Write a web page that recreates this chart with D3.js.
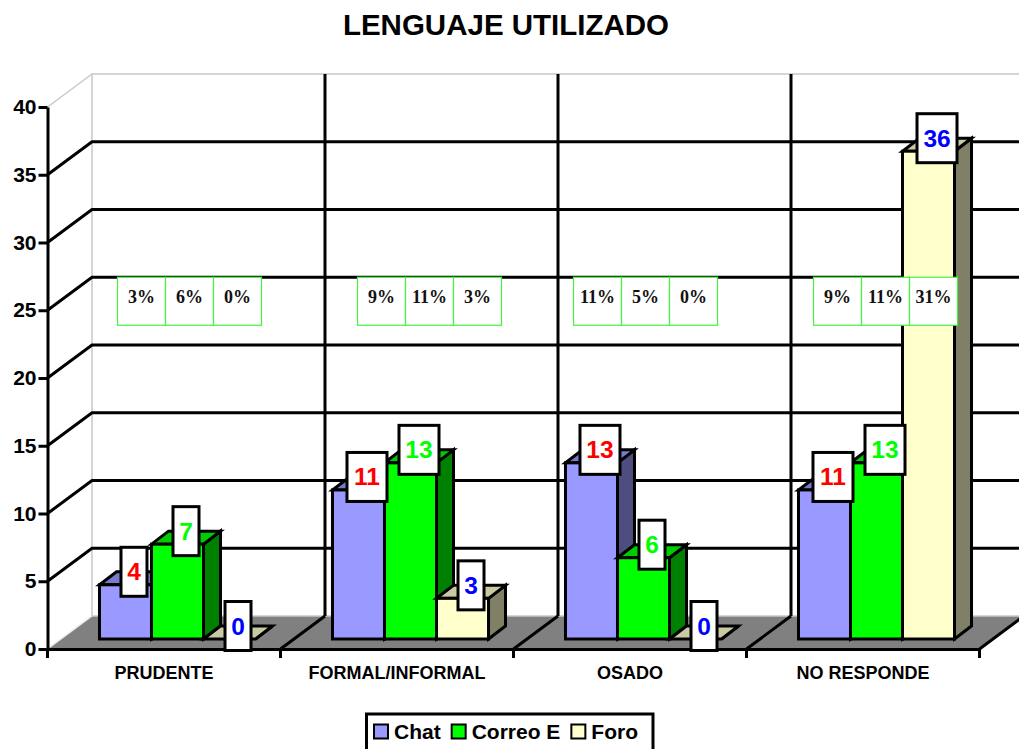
<!DOCTYPE html>
<html>
<head>
<meta charset="utf-8">
<title>Lenguaje utilizado</title>
<script src="https://d3js.org/d3.v7.min.js"></script>
<style>
  body { margin: 0; background: white; }
  svg { display: block; }
  text { font-family: "Liberation Sans", Arial, sans-serif; font-weight: bold; }
</style>
</head>
<body>
<svg id="chart" width="1019" height="749"></svg>
<script>
const categories = ["PRUDENTE", "FORMAL/INFORMAL", "OSADO", "NO RESPONDE"];
const seriesNames = ["Chat", "Correo E", "Foro"];
const chatValues = [4, 11, 13, 11];
const correoValues = [7, 13, 6, 13];
const foroValues = [0, 3, 0, 36];
const chatPct = ["3%", "9%", "11%", "9%"];
const correoPct = ["6%", "11%", "5%", "11%"];
const foroPct = ["0%", "3%", "0%", "31%"];
const yTicks = [0, 5, 10, 15, 20, 25, 30, 35, 40];

const seriesValues = [chatValues, correoValues, foroValues];
const seriesPct = [chatPct, correoPct, foroPct];

// colours per series: front, top, side, label
const front = ["#9999ff", "#00ff00", "#ffffcc"];
const topFace = ["#7a7acc", "#00cc00", "#c9c9a3"];
const side = ["#4d4d80", "#008000", "#808066"];
const labelCol = ["#ff0000", "#00ff00", "#0000ff"];

// wall depth, bar inset from the front edge, bar depth
const wall = { dx: 44.5, dy: -33 };
const inset = { dx: 13.5, dy: -10 };
const depth = { dx: 17, dy: -13 };
// the percent tables were placed by hand, each one differs
const tableShift = [70, 77, 60, 67];
const cellW = 48;
const lineW = 3;

const svg = d3.select("#chart");

const x0 = d3.scaleBand().domain(categories).range([47.5, 979.5]);
const x1 = d3.scaleBand().domain(d3.range(3)).range([0, x0.bandwidth()]).paddingOuter(0.74).paddingInner(0);
const y = d3.scaleLinear().domain([0, 40]).range([649, 107]);
const barW = x1.bandwidth();

svg.append("text")
  .attr("x", 506).attr("y", 35)
  .attr("text-anchor", "middle")
  .style("font-size", "29.5px")
  .text("LENGUAJE UTILIZADO");

// floor
const floorY = y(0);
const xL = x0.range()[0], xR = x0.range()[1];
svg.append("polygon")
  .attr("points", [[xL, floorY], [xR, floorY], [xR + wall.dx, floorY + wall.dy], [xL + wall.dx, floorY + wall.dy]].join(" "))
  .attr("fill", "#808080");

// light wall edges
const grey = "#c8c8c8";
const wallG = svg.append("g").attr("fill", "none");
wallG.append("path")
  .attr("d", `M${xL + wall.dx},${floorY + wall.dy}V${y(40) + wall.dy}H1019`)
  .attr("stroke", grey).attr("stroke-width", 1.5);
wallG.append("line")
  .attr("x1", xL).attr("y1", y(40)).attr("x2", xL + wall.dx).attr("y2", y(40) + wall.dy)
  .attr("stroke", grey).attr("stroke-width", 1.5);
wallG.append("line")
  .attr("x1", xL).attr("y1", floorY).attr("x2", xL + wall.dx).attr("y2", floorY + wall.dy)
  .attr("stroke", "#e8e8e8").attr("stroke-width", 1.5);
wallG.append("line")
  .attr("x1", xL + wall.dx).attr("y1", floorY + wall.dy).attr("x2", 1019).attr("y2", floorY + wall.dy)
  .attr("stroke", grey).attr("stroke-width", 1.5);

// horizontal grid with its side wall part
const grid = svg.append("g").attr("stroke", "black").attr("stroke-width", lineW);
yTicks.filter(t => t > 0 && t < 40).forEach(t => {
  grid.append("path")
    .attr("fill", "none")
    .attr("d", `M${xL},${y(t)}L${xL + wall.dx},${y(t) + wall.dy}H1019`);
});

// vertical grid on the back wall and floor diagonals at band edges
categories.forEach((c, i) => {
  const bx = x0(c) + x0.bandwidth();
  if (i < categories.length - 1) {
    grid.append("line")
      .attr("x1", bx + wall.dx).attr("x2", bx + wall.dx)
      .attr("y1", y(40) + wall.dy).attr("y2", floorY + wall.dy);
  }
  grid.append("line")
    .attr("x1", bx).attr("y1", floorY)
    .attr("x2", bx + wall.dx).attr("y2", floorY + wall.dy);
});

// bars
const chart = svg.append("g").attr("stroke", "black").attr("stroke-width", lineW).attr("stroke-linejoin", "miter");
categories.forEach((c, ci) => {
  seriesNames.forEach((s, si) => {
    const v = seriesValues[si][ci];
    const xa = x0(c) + x1(si) + inset.dx;
    const xb = xa + barW;
    const yb = y(0) + inset.dy;
    const yt = yb - (y(0) - y(v));
    const g = chart.append("g");
    g.append("polygon")
      .attr("points", [[xb, yb], [xb + depth.dx, yb + depth.dy], [xb + depth.dx, yt + depth.dy], [xb, yt]].join(" "))
      .attr("fill", side[si]);
    g.append("polygon")
      .attr("points", [[xa, yt], [xb, yt], [xb + depth.dx, yt + depth.dy], [xa + depth.dx, yt + depth.dy]].join(" "))
      .attr("fill", topFace[si]);
    if (v > 0) {
      g.append("rect")
        .attr("x", xa).attr("y", yt)
        .attr("width", barW).attr("height", yb - yt)
        .attr("fill", front[si]);
    }
  });
});

// axes
const yAxis = svg.append("g")
  .attr("transform", `translate(${xL},0)`)
  .call(d3.axisLeft(y).tickValues(yTicks).tickSize(9).tickSizeOuter(0).tickPadding(2));
yAxis.selectAll("text").style("font-size", "21px").attr("fill", "black");

const xAxis = svg.append("g")
  .attr("transform", `translate(0,${floorY})`)
  .call(d3.axisBottom(x0).tickSize(0).tickPadding(17));
xAxis.selectAll("text").style("font-size", "18px").attr("fill", "black");

[yAxis, xAxis].forEach(a => {
  a.selectAll("path, line").attr("stroke", "black").attr("stroke-width", lineW);
});

// band edge ticks below the axis
const edges = [xL].concat(categories.map(c => x0(c) + x0.bandwidth()));
xAxis.selectAll(".edge").data(edges).enter().append("line")
  .attr("class", "edge")
  .attr("x1", d => d).attr("x2", d => d)
  .attr("y1", 0).attr("y2", 9)
  .attr("stroke", "black").attr("stroke-width", lineW);

// percent tables
const tables = svg.append("g");
categories.forEach((c, ci) => {
  seriesNames.forEach((s, si) => {
    const cx = x0(c) + tableShift[ci] + si * cellW;
    const cy = y(25) + wall.dy;
    tables.append("rect")
      .attr("x", cx).attr("y", cy)
      .attr("width", cellW).attr("height", cellW)
      .attr("fill", "white").attr("stroke", "#44f044").attr("stroke-width", 1.2);
    tables.append("text")
      .attr("x", cx + cellW / 2).attr("y", cy + 26)
      .attr("text-anchor", "middle")
      .style("font-family", '"Liberation Serif", "Times New Roman", serif')
      .style("font-size", "18px")
      .attr("fill", "#111")
      .text(seriesPct[si][ci]);
  });
});

// value labels
const labels = svg.append("g");
categories.forEach((c, ci) => {
  seriesNames.forEach((s, si) => {
    const v = seriesValues[si][ci];
    const txt = String(v);
    const boxW = txt.length > 1 ? 40 : 26;
    const cx = x0(c) + x1(si) + inset.dx + barW / 2 + depth.dx / 2;
    const cy = y(0) + inset.dy - (y(0) - y(v)) - 13;
    labels.append("rect")
      .attr("x", cx - boxW / 2).attr("y", cy - 24.5)
      .attr("width", boxW).attr("height", 49)
      .attr("fill", "white").attr("stroke", "black").attr("stroke-width", lineW);
    labels.append("text")
      .attr("x", cx).attr("y", cy + 8.5)
      .attr("text-anchor", "middle")
      .style("font-size", "24.5px")
      .attr("fill", labelCol[si])
      .text(txt);
  });
});

// legend
const legend = svg.append("g");
legend.append("rect")
  .attr("x", 366.5).attr("y", 714)
  .attr("width", 286.5).attr("height", 50)
  .attr("fill", "white").attr("stroke", "black").attr("stroke-width", lineW);
let lx = 374;
seriesNames.forEach((s, si) => {
  legend.append("rect")
    .attr("x", lx).attr("y", 724.5)
    .attr("width", 14).attr("height", 14)
    .attr("fill", front[si]).attr("stroke", "black").attr("stroke-width", 2);
  const t = legend.append("text")
    .attr("x", lx + 20).attr("y", 739)
    .style("font-size", "21px")
    .attr("fill", "black")
    .text(s);
  lx += 20 + t.node().getComputedTextLength() + 11;
});
</script>
</body>
</html>
